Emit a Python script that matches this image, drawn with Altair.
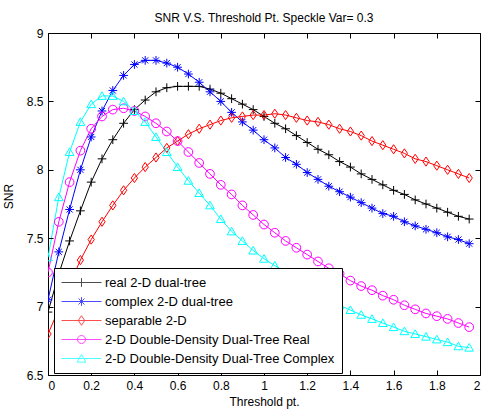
import altair as alt
import pandas as pd

# ---------------- data ----------------
x_vals = [0.0, 0.05, 0.1, 0.15, 0.2, 0.25, 0.3, 0.35, 0.4, 0.45,
          0.5, 0.55, 0.6, 0.65, 0.7, 0.75, 0.8, 0.85, 0.9, 0.95,
          1.0, 1.05, 1.1, 1.15, 1.2, 1.25, 1.3, 1.35, 1.4, 1.45,
          1.5, 1.55, 1.6, 1.65, 1.7, 1.75, 1.8, 1.85, 1.9, 1.95]

real_dt = [6.96, 7.24, 7.48, 7.70, 7.91, 8.08, 8.22, 8.34, 8.44, 8.51,
           8.57, 8.60, 8.61, 8.61, 8.61, 8.59, 8.56, 8.52, 8.48, 8.44,
           8.39, 8.34, 8.30, 8.25, 8.20, 8.15, 8.11, 8.06, 8.02, 7.97,
           7.93, 7.89, 7.85, 7.82, 7.78, 7.75, 7.72, 7.69, 7.66, 7.64]

complex_dt = [7.05, 7.40, 7.71, 8.00, 8.24, 8.43, 8.58, 8.69, 8.77, 8.80,
              8.80, 8.78, 8.75, 8.70, 8.64, 8.57, 8.50, 8.42, 8.35, 8.29,
              8.22, 8.16, 8.09, 8.04, 7.98, 7.93, 7.88, 7.84, 7.80, 7.76,
              7.72, 7.68, 7.66, 7.62, 7.59, 7.565, 7.54, 7.51, 7.49, 7.46]

separable = [6.80, 6.98, 7.16, 7.34, 7.49, 7.62, 7.74, 7.85, 7.94, 8.02,
             8.09, 8.16, 8.21, 8.26, 8.30, 8.33, 8.36, 8.38, 8.39, 8.40,
             8.40, 8.41, 8.40, 8.38, 8.36, 8.35, 8.33, 8.30, 8.28, 8.25,
             8.21, 8.18, 8.15, 8.12, 8.08, 8.06, 8.03, 8.00, 7.97, 7.94]

dd_real = [7.25, 7.62, 7.91, 8.14, 8.30, 8.39, 8.44, 8.45, 8.43, 8.39,
           8.34, 8.28, 8.21, 8.13, 8.05, 7.97, 7.89, 7.82, 7.74, 7.67,
           7.60, 7.54, 7.48, 7.43, 7.38, 7.33, 7.28, 7.24, 7.19, 7.15,
           7.12, 7.08, 7.05, 7.01, 6.98, 6.95, 6.93, 6.91, 6.88, 6.85]

dd_complex = [7.36, 7.80, 8.13, 8.35, 8.48, 8.54, 8.54, 8.50, 8.43, 8.35,
              8.24, 8.13, 8.02, 7.92, 7.83, 7.74, 7.64, 7.55, 7.48, 7.41,
              7.35, 7.30, 7.25, 7.20, 7.15, 7.10, 7.05, 7.01, 6.975, 6.94,
              6.91, 6.88, 6.85, 6.82, 6.80, 6.78, 6.76, 6.74, 6.71, 6.70]

series_names = ["\u00a0real 2-D dual-tree", "\u00a0complex 2-D dual-tree",
                "separable 2-D", "2-D Double-Density Dual-Tree Real",
                "2-D Double-Density Dual-Tree Complex"]
series_values = [real_dt, complex_dt, separable, dd_real, dd_complex]

x_ticks = [0, 0.2, 0.4, 0.6, 0.8, 1, 1.2, 1.4, 1.6, 1.8, 2]
y_ticks = [6.5, 7, 7.5, 8, 8.5, 9]

# ---------------- styles ----------------
colors = ["#000000", "#0000ff", "#ff0000", "#ff00ff", "#00ffff"]
marker_paths = [
    "M-1,0H1M0,-1V1",
    "M-1,0H1M0,-1V1M-0.7,-0.7L0.7,0.7M-0.7,0.7L0.7,-0.7",
    "M0,-1.05L0.72,0L0,1.05L-0.72,0Z",
    "circle",
    "M0,-0.95L1,0.8L-1,0.8Z",
]
legend_paths = [
    "M-1,0H1M0,-0.22V0.22",
    "M-1,0H1M0,-0.22V0.22M-0.15,-0.15L0.15,0.15M-0.15,0.15L0.15,-0.15",
    "M-1,0H1M0,-0.24L0.16,0L0,0.24L-0.16,0Z",
    "M-1,0H1M0.2,0A0.2,0.2 0 1,1 -0.2,0A0.2,0.2 0 1,1 0.2,0",
    "M-1,0H1M0,-0.2L0.22,0.18L-0.22,0.18Z",
]

rows = []
for name, vals in zip(series_names, series_values):
    for xv, yv in zip(x_vals, vals):
        rows.append({"x": xv, "snr": yv, "series": name})
df = pd.DataFrame(rows)

W, H = 432, 342
FONT = "Liberation Sans"

xs = alt.Scale(domain=[0, 2], nice=False, zero=False)
ys = alt.Scale(domain=[6.5, 9], nice=False, zero=False)

base = alt.Chart(df)

lines = base.mark_line(strokeWidth=1, clip=True).encode(
    x=alt.X("x:Q", scale=xs, title="Threshold pt.",
            axis=alt.Axis(orient="bottom", values=x_ticks, format="~g",
                          ticks=False, tickSize=0, domain=False, grid=False,
                          labelPadding=5, titlePadding=5)),
    y=alt.Y("snr:Q", scale=ys, title="SNR",
            axis=alt.Axis(orient="left", values=y_ticks, format="~g",
                          ticks=False, tickSize=0, domain=False, grid=False,
                          labelPadding=5, titlePadding=11, titleY=163)),
    color=alt.Color("series:N", scale=alt.Scale(domain=series_names, range=colors),
                    legend=None),
)

points = base.mark_point(filled=False, strokeWidth=1, size=76, opacity=1, clip=True).encode(
    x=alt.X("x:Q", scale=xs, title=None,
            axis=alt.Axis(orient="top", offset=-H, values=x_ticks, labels=False,
                          domain=False, grid=False, tickSize=5, zindex=1)),
    y=alt.Y("snr:Q", scale=ys, title=None,
            axis=alt.Axis(orient="right", offset=-W, values=y_ticks, labels=False,
                          domain=False, grid=False, tickSize=5, zindex=1)),
    color=alt.Color("series:N", scale=alt.Scale(domain=series_names, range=colors),
                    legend=None),
    shape=alt.Shape("series:N", scale=alt.Scale(domain=series_names, range=marker_paths),
                    legend=None),
)

leg_props = dict(title=None, orient="none", legendX=6, legendY=235,
                 direction="vertical", fillColor="white", strokeColor="black",
                 padding=7, symbolSize=1600, symbolStrokeWidth=1,
                 labelFontSize=13, labelFont=FONT, labelColor="black",
                 labelOffset=3, labelLimit=400, rowPadding=4, clipHeight=15,
                 zindex=2)

legend_layer = base.transform_filter("false").mark_point(filled=False, strokeWidth=1).encode(
    x=alt.X("x:Q", scale=xs, title=None,
            axis=alt.Axis(orient="bottom", offset=-H, values=x_ticks, labels=False,
                          domain=False, grid=False, tickSize=5, zindex=1)),
    y=alt.Y("snr:Q", scale=ys, title=None,
            axis=alt.Axis(orient="left", offset=-W, values=y_ticks, labels=False,
                          domain=False, grid=False, tickSize=5, zindex=1)),
    color=alt.Color("series:N", scale=alt.Scale(domain=series_names, range=colors),
                    legend=alt.Legend(**leg_props)),
    shape=alt.Shape("series:N", scale=alt.Scale(domain=series_names, range=legend_paths),
                    legend=alt.Legend(**leg_props)),
)

chart = alt.layer(lines, points, legend_layer).resolve_scale(
    color="independent", shape="independent"
).resolve_axis(
    x="independent", y="independent"
).properties(
    width=W, height=H,
    title=alt.TitleParams("SNR V.S. Threshold Pt. Speckle Var= 0.3", fontSize=12,
                          fontWeight="normal", font=FONT, color="black",
                          anchor="middle", offset=2),
    padding={"left": 48, "top": 33, "right": 1, "bottom": 35},
    autosize="none",
    background="white",
).configure_view(
    stroke="black", strokeWidth=1
).configure_axis(
    labelFont=FONT, labelFontSize=12, labelColor="black",
    titleFont=FONT, titleFontSize=12, titleFontWeight="normal", titleColor="black",
    tickColor="black", tickWidth=1,
)

chart.save("out.html", embed_options={"renderer": "svg", "actions": False})
